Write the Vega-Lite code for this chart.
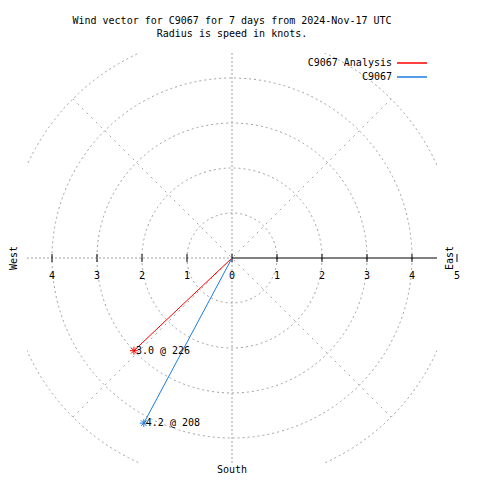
{
  "$schema": "https://vega.github.io/schema/vega-lite/v6.json",
  "autosize": "none",
  "width": 410,
  "height": 410,
  "padding": {"left": 27, "top": 53, "right": 43, "bottom": 17},
  "background": "white",
  "config": {"view": {"stroke": null}},
  "title": {
    "text": ["Wind vector for C9067 for 7 days from 2024-Nov-17 UTC", "Radius is speed in knots."],
    "font": "DejaVu Sans Mono",
    "fontSize": 10,
    "fontWeight": "normal",
    "color": "black",
    "anchor": "middle",
    "offset": 14,
    "lineHeight": 13
  },
  "datasets": {
    "rings": [{"x": 0, "y": 0, "r": 1}, {"x": 0, "y": 0, "r": 2}, {"x": 0, "y": 0, "r": 3}, {"x": 0, "y": 0, "r": 4}, {"x": 0, "y": 0, "r": 5}],
    "spokes": [
      {"x": 0, "y": -5, "x2": 0, "y2": 5},
      {"x": -5, "y": 0, "x2": 0, "y2": 0}
    ],
    "diagonals": [
      {"x": -3.536, "y": -3.536, "x2": 3.536, "y2": 3.536},
      {"x": -3.536, "y": 3.536, "x2": 3.536, "y2": -3.536}
    ],
    "eastAxis": [{"x": 0, "y": 0, "x2": 5, "y2": 0}],
    "ticks": [
      {"x": -4, "y": 0, "label": "4"}, {"x": -3, "y": 0, "label": "3"}, {"x": -2, "y": 0, "label": "2"}, {"x": -1, "y": 0, "label": "1"},
      {"x": 0, "y": 0, "label": "0"}, {"x": 1, "y": 0, "label": "1"}, {"x": 2, "y": 0, "label": "2"}, {"x": 3, "y": 0, "label": "3"},
      {"x": 4, "y": 0, "label": "4"}, {"x": 5, "y": 0, "label": "5"}
    ],
    "compass": [
      {"x": -4.84, "y": 0, "label": "West"},
      {"x": 4.84, "y": 0, "label": "East"}
    ],
    "south": [{"x": 0, "y": -4.72, "label": "South"}],
    "vectors": [
      {"series": "C9067 Analysis", "pt": 0, "x": 0, "y": 0},
      {"series": "C9067 Analysis", "pt": 1, "x": -2.18, "y": -2.06},
      {"series": "C9067", "pt": 0, "x": 0, "y": 0},
      {"series": "C9067", "pt": 1, "x": -1.96, "y": -3.67}
    ],
    "ends": [
      {"series": "C9067 Analysis", "x": -2.18, "y": -2.06, "label": "3.0 @ 226"},
      {"series": "C9067", "x": -1.96, "y": -3.67, "label": "4.2 @ 208"}
    ]
  },
  "resolve": {"scale": {"x": "shared", "y": "shared"}},
  "layer": [
    {
      "data": {"name": "rings"},
      "mark": {"type": "point", "shape": "circle", "filled": false, "stroke": "#a0a0a0", "strokeWidth": 1, "strokeDash": [2, 3], "opacity": 1, "clip": true},
      "encoding": {
        "x": {"field": "x", "type": "quantitative", "scale": {"domain": [-4.556, 4.556], "nice": false, "zero": false}, "axis": null},
        "y": {"field": "y", "type": "quantitative", "scale": {"domain": [-4.556, 4.556], "nice": false, "zero": false}, "axis": null},
        "size": {"field": "r", "type": "quantitative", "scale": {"type": "pow", "exponent": 2, "domain": [0, 5], "range": [0, 202500]}, "legend": null}
      }
    },
    {
      "data": {"name": "spokes"},
      "mark": {"type": "rule", "stroke": "#a0a0a0", "strokeWidth": 1, "strokeDash": [2, 2], "clip": true},
      "encoding": {
        "x": {"field": "x", "type": "quantitative"},
        "y": {"field": "y", "type": "quantitative"},
        "x2": {"field": "x2"},
        "y2": {"field": "y2"}
      }
    },
    {
      "data": {"name": "diagonals"},
      "mark": {"type": "rule", "stroke": "#a8a8a8", "strokeWidth": 1, "strokeDash": [2, 4.5], "clip": true},
      "encoding": {
        "x": {"field": "x", "type": "quantitative"},
        "y": {"field": "y", "type": "quantitative"},
        "x2": {"field": "x2"},
        "y2": {"field": "y2"}
      }
    },
    {
      "data": {"name": "eastAxis"},
      "mark": {"type": "rule", "stroke": "black", "strokeWidth": 1, "clip": true},
      "encoding": {
        "x": {"field": "x", "type": "quantitative"},
        "y": {"field": "y", "type": "quantitative"},
        "x2": {"field": "x2"},
        "y2": {"field": "y2"}
      }
    },
    {
      "data": {"name": "ticks"},
      "mark": {"type": "tick", "orient": "vertical", "size": 8, "thickness": 1, "color": "black", "opacity": 1},
      "encoding": {
        "x": {"field": "x", "type": "quantitative"},
        "y": {"field": "y", "type": "quantitative"}
      }
    },
    {
      "data": {"name": "ticks"},
      "mark": {"type": "text", "font": "DejaVu Sans Mono", "fontSize": 10, "color": "black", "align": "center", "baseline": "middle", "dy": 18},
      "encoding": {
        "x": {"field": "x", "type": "quantitative"},
        "y": {"field": "y", "type": "quantitative"},
        "text": {"field": "label"}
      }
    },
    {
      "data": {"name": "compass"},
      "mark": {"type": "text", "font": "DejaVu Sans Mono", "fontSize": 10, "color": "black", "align": "center", "baseline": "middle", "angle": 270},
      "encoding": {
        "x": {"field": "x", "type": "quantitative"},
        "y": {"field": "y", "type": "quantitative"},
        "text": {"field": "label"}
      }
    },
    {
      "data": {"name": "south"},
      "mark": {"type": "text", "font": "DejaVu Sans Mono", "fontSize": 10, "color": "black", "align": "center", "baseline": "middle"},
      "encoding": {
        "x": {"field": "x", "type": "quantitative"},
        "y": {"field": "y", "type": "quantitative"},
        "text": {"field": "label"}
      }
    },
    {
      "data": {"name": "vectors"},
      "mark": {"type": "line", "strokeWidth": 1},
      "encoding": {
        "x": {"field": "x", "type": "quantitative"},
        "y": {"field": "y", "type": "quantitative"},
        "order": {"field": "pt", "type": "quantitative"},
        "color": {
          "field": "series", "type": "nominal",
          "scale": {"domain": ["C9067 Analysis", "C9067"], "range": ["#ff0000", "#1c7ce0"]},
          "sort": ["C9067 Analysis", "C9067"],
          "legend": {
            "orient": "none", "legendX": 379, "legendY": 4, "title": null,
            "symbolType": "M-3,0L3,0", "symbolSize": 100, "symbolStrokeWidth": 1.5,
            "labelAlign": "right", "labelOffset": -26,
            "labelFont": "DejaVu Sans Mono", "labelFontSize": 10, "labelColor": "black",
            "rowPadding": 3, "padding": 0
          }
        }
      }
    },
    {
      "data": {"name": "ends"},
      "mark": {"type": "point", "shape": "M-1,0L1,0M0,-1L0,1M-0.7,-0.7L0.7,0.7M-0.7,0.7L0.7,-0.7", "size": 64, "filled": false, "strokeWidth": 1, "opacity": 1},
      "encoding": {
        "x": {"field": "x", "type": "quantitative"},
        "y": {"field": "y", "type": "quantitative"},
        "stroke": {"field": "series", "type": "nominal", "scale": {"domain": ["C9067 Analysis", "C9067"], "range": ["#ff0000", "#1c7ce0"]}, "legend": null}
      }
    },
    {
      "data": {"name": "ends"},
      "mark": {"type": "text", "font": "DejaVu Sans Mono", "fontSize": 10, "color": "black", "align": "left", "baseline": "middle", "dx": 2},
      "encoding": {
        "x": {"field": "x", "type": "quantitative"},
        "y": {"field": "y", "type": "quantitative"},
        "text": {"field": "label"}
      }
    }
  ]
}
